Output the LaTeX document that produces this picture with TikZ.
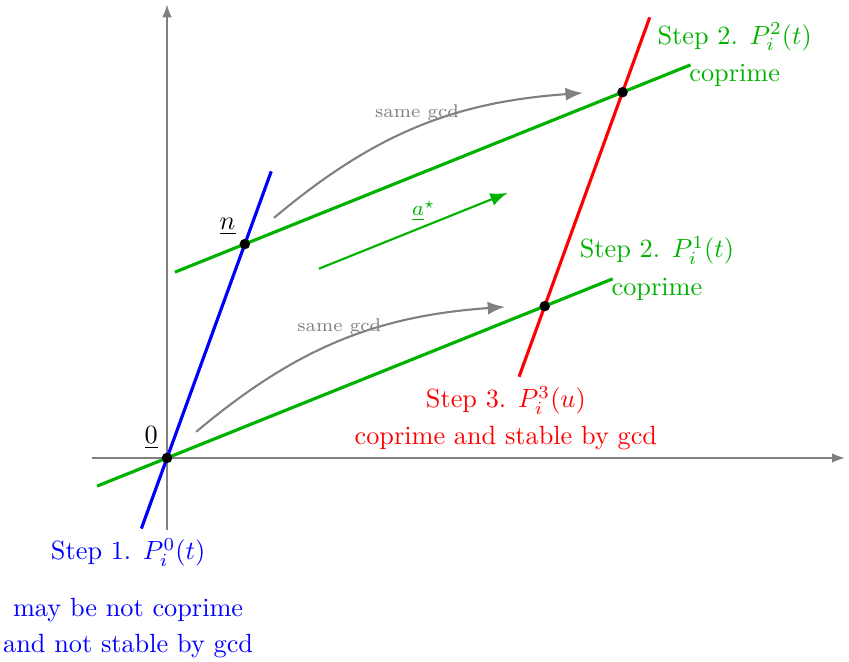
\documentclass[tikz,border=0pt]{standalone}
\usetikzlibrary{
  calc, % For coordinate calculations
  arrows.meta % For arrow tips
}
\colorlet{stepgreen}{green!70!black}

\begin{document}
\begin{tikzpicture}[
      >=Latex, % Default arrow tip
      axis/.style={gray, thin, ->}, % Style for the axes
      lattice/.style={very thick}, % Style for the lattice lines
      gcdarrow/.style={gray, thick, ->}, % Style for the gcd arrows
      gcdlabel/.style={gray, font=\scriptsize, inner sep=2pt}, % Style for the gcd labels
      steplabel/.style={align=center, anchor=north}, % Style for the step labels
      dot/.style={circle, fill=black, inner sep=0pt, minimum size=4pt}, % Style for the points
    ]

    % Sizes
    \def\nx{1.04}
    \def\ny{2.86}
    \def\ax{5.05}
    \def\ay{2.03}

    \useasboundingbox (-2.233,-2.727) rectangle (9.118,6.123);

    % Points
    \coordinate (O) at (0, 0);
    \coordinate (N) at (\nx, \ny);
    \coordinate (A) at (\ax, \ay);
    \coordinate (Q) at (\nx + \ax, \ny + \ay);

    % Axes
    \coordinate (xmin) at (-1.0, 0);
    \coordinate (xmax) at (9.06, 0);
    \coordinate (ymin) at (0, -0.96);
    \coordinate (ymax) at (0, 6.06);
    \draw[axis] (xmin) -- (xmax);
    \draw[axis] (ymin) -- (ymax);

    % Lines
    \draw[lattice, blue] ($(O)!-0.33!(N)$) -- ($(O)!1.34!(N)$);
    \draw[lattice, stepgreen] ($(O)!-0.185!(A)$) -- ($(O)!1.18!(A)$);
    \draw[lattice, stepgreen] ($(N)!-0.185!(Q)$) -- ($(N)!1.18!(Q)$);
    \draw[lattice, red] ($(A)!-0.33!(Q)$) -- ($(A)!1.35!(Q)$);

    % Same gcd
    \foreach \p/\k in {O/1, N/2} {
      \coordinate (g\k s) at ($(\p) + (0.39, 0.35)$);
      \coordinate (g\k e) at ($(\p) + (4.52, 2.02)$);
      \draw[gcdarrow] (g\k s) to[bend left=18]
      node[midway, above, gcdlabel] (gcd\k) {same gcd} (g\k e);
    }

    % Direction a*
    \coordinate (as) at (2.03, 2.53);
    \coordinate (ae) at ($(as) + (0.5 * \ax, 0.5 * \ay)$);
    \draw[thick, stepgreen, ->] (as) -- (ae)
    node[midway, above, xshift=4pt, font=\footnotesize] (astar) {$\underline{a}^\star$};

    % Points
    \foreach \p in {O, N, A, Q}
    \node[dot] (d\p) at (\p) {};
    \node[above left] (l0) at (O) {$\underline{0}$};
    \node[above left] (ln) at (N) {$\underline{n}$};

    % Steps
    \node[steplabel, blue] (step1) at ($(O) + (-0.52, -0.95)$)
    {Step 1. $P_i^0(t)$\\[9.7pt] may be not coprime\\[1.7pt] and not stable by gcd};
    \node[steplabel, stepgreen, anchor=center] (step2a) at ($(A) + (1.5, 0.5)$)
    {Step 2. $P_i^1(t)$\\[2.4pt] coprime};
    \node[steplabel, stepgreen, anchor=center] (step2b) at ($(Q) + (1.5, 0.5)$)
    {Step 2. $P_i^2(t)$\\[2.4pt] coprime};
    \node[steplabel, red] (step3) at ($(A) + (-0.52, -0.95)$)
    {Step 3. $P_i^3(u)$\\[2pt] coprime and stable by gcd};

  \end{tikzpicture}
\end{document}
